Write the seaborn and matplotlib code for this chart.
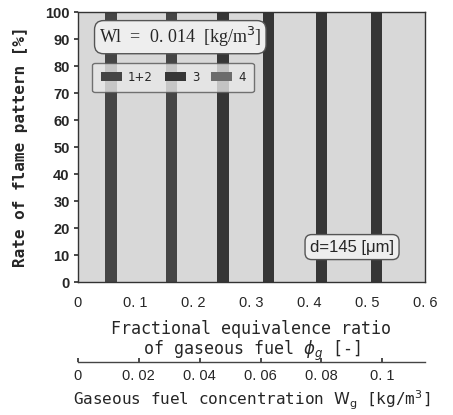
import matplotlib
matplotlib.use("Agg")
import matplotlib.pyplot as plt
import seaborn as sns
import pandas as pd
from matplotlib.patches import Patch

# ---- data ----
phi_g = [0.057, 0.162, 0.251, 0.330, 0.421, 0.516]
rate = [100, 100, 100, 100, 100, 100]
pattern = ["1+2", "1+2", "3", "3", "3", "3"]
legend_labels = ["1+2", "3", "4"]
x_ticks = [0, 0.1, 0.2, 0.3, 0.4, 0.5, 0.6]
x_ticklabels = ["0", "0. 1", "0. 2", "0. 3", "0. 4", "0. 5", "0. 6"]
wg_ticks = [0, 0.02, 0.04, 0.06, 0.08, 0.1]
wg_ticklabels = ["0", "0. 02", "0. 04", "0. 06", "0. 08", "0. 1"]
y_ticks = list(range(0, 101, 10))
wg_per_phi = 0.19

palette = {"1+2": "#454545", "3": "#363636", "4": "#6c6c6c"}

df = pd.DataFrame({"phi": phi_g, "rate": rate, "pattern": pattern})

sns.set_theme(style="white")
plt.rcParams["font.family"] = ["DejaVu Sans"]

fig = plt.figure(figsize=(4.53, 4.15), dpi=100)
ax = fig.add_axes([0.172, 0.320, 0.766, 0.651])
ax.set_facecolor("#d8d8d8")

sns.barplot(data=df, x="phi", y="rate", hue="pattern", hue_order=legend_labels,
            palette=palette, native_scale=True, dodge=False, width=0.25,
            ax=ax, legend=False, edgecolor="none", linewidth=0, saturation=1)

ax.set_xlim(0, 0.6)
ax.set_ylim(0, 100)
ax.set_xticks(x_ticks)
ax.set_xticklabels(x_ticklabels, fontsize=10.5, family="Liberation Sans")
ax.set_yticks(y_ticks)
ax.set_yticklabels([str(v) for v in y_ticks], fontsize=10.5, fontweight="bold",
                   family="Liberation Sans")
ax.tick_params(axis="x", direction="in", length=3, pad=10, color="#333")
ax.tick_params(axis="y", direction="out", length=3, pad=3, left=True, color="#333")
for s in ax.spines.values():
    s.set_color("#333")
    s.set_linewidth(1.0)

ax.set_xlabel("Fractional equivalence ratio\nof gaseous fuel $\\phi_g$ [-]",
              family="DejaVu Sans Mono", fontsize=12, labelpad=7, linespacing=1.05)
ax.set_ylabel("Rate of flame pattern [%]", family="DejaVu Sans Mono",
              fontsize=11.5, fontweight="bold", labelpad=12)

# secondary axis: gaseous fuel concentration
sec = ax.secondary_xaxis(-0.296, functions=(lambda p: p * wg_per_phi,
                                              lambda w: w / wg_per_phi))
sec.set_xticks(wg_ticks)
sec.set_xticklabels(wg_ticklabels, fontsize=10.5, family="Liberation Sans")
sec.tick_params(direction="in", length=3, pad=5, color="#333")
sec.spines["bottom"].set_color("#444")
sec.spines["bottom"].set_linewidth(1.0)
sec.set_xlabel("Gaseous fuel concentration $\\mathrm{W_g}$ [kg/m$^3$]",
               family="DejaVu Sans Mono", fontsize=11.5, labelpad=4)

# legend
handles = [Patch(facecolor=palette[k], edgecolor="none") for k in legend_labels]
leg = ax.legend(handles, legend_labels, ncol=3, loc="upper left",
                bbox_to_anchor=(0.025, 0.835), fontsize=8.5, frameon=True,
                fancybox=True, handlelength=1.8, handleheight=0.8,
                columnspacing=1.0, handletextpad=0.5, borderpad=0.7)
leg.get_frame().set_facecolor("#e8e8e8")
leg.get_frame().set_edgecolor("#555")
leg.get_frame().set_linewidth(1.0)

ax.text(0.295, 0.907, "Wl  =  0. 014  [kg/m$^3$]", transform=ax.transAxes,
        ha="center", va="center", fontsize=13, family="Liberation Serif",
        bbox=dict(boxstyle="round,pad=0.25,rounding_size=0.5", facecolor="#eeeeee",
                  edgecolor="#555", linewidth=1.0))
ax.text(0.79, 0.13, "d=145 [μm]", transform=ax.transAxes,
        ha="center", va="center", fontsize=12, family="Liberation Sans",
        bbox=dict(boxstyle="round,pad=0.3,rounding_size=0.4", facecolor="#eeeeee",
                  edgecolor="#555", linewidth=1.0))

fig.savefig("out.png", dpi=100)
